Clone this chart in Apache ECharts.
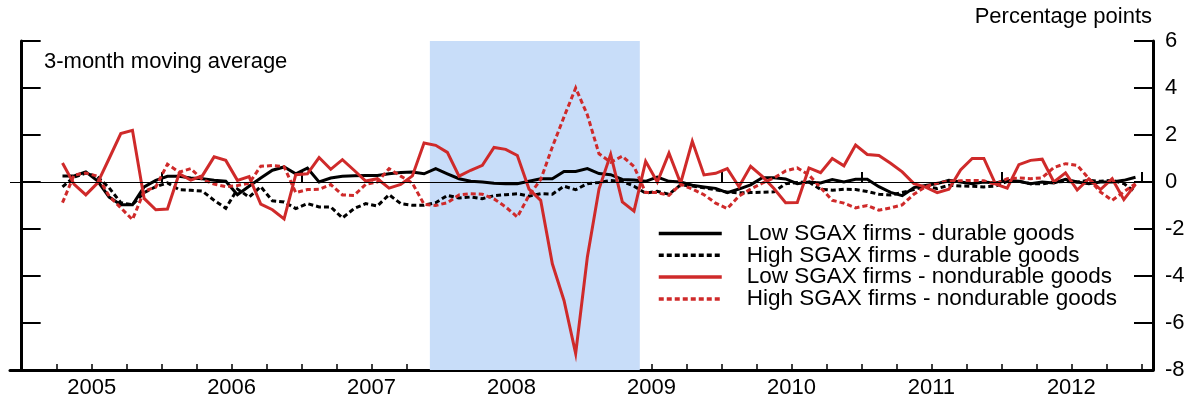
<!DOCTYPE html>
<html><head><meta charset="utf-8">
<script src="https://cdn.jsdelivr.net/npm/echarts@6/dist/echarts.min.js"></script>
<style>html,body{margin:0;padding:0;background:#fff}#c{width:1195px;height:408px}</style>
</head><body><div id="c"></div>
<script>
// ---- data ----
const years = ['2005','2006','2007','2008','2009','2010','2011','2012'];
const quarters = years.flatMap(y => ['Q1','Q2','Q3','Q4'].map(q => y + q));
const firstMonth = '2005-04';          // first observation (monthly)
const frameStart = '2004-12';          // left edge of frame
const frameEnd = '2013-02';            // right edge of frame (exclusive month start)
const recession = ['2007-12', '2009-06'];
const yTicks = { min: -8, max: 6, step: 2 };
const seriesNames = ['Low SGAX firms - durable goods','High SGAX firms - durable goods','Low SGAX firms - nondurable goods','High SGAX firms - nondurable goods'];

const lowDurable = [0.26,0.26,0.43,0.05,-0.64,-0.97,-0.97,-0.21,0.07,0.24,
 0.24,0.17,0.14,0.07,0.03,-0.54,-0.18,0.17,0.5,0.64,
 0.35,0.59,0,0.17,0.24,0.27,0.28,0.28,0.35,0.4,
 0.43,0.35,0.57,0.35,0.14,0.03,0,-0.05,-0.07,-0.07,
 0.03,0.14,0.14,0.45,0.45,0.57,0.36,0.31,0.11,0.08,
 0.03,0.21,0.03,0,-0.14,-0.21,-0.27,-0.45,-0.3,-0.12,
 0.18,0.18,0.13,-0.07,0,-0.04,0.1,0,0.12,0.12,
 -0.2,-0.44,-0.58,-0.24,-0.15,-0.07,0.07,0,-0.07,0,
 -0.04,0.07,0.03,-0.07,0,-0.04,0.11,0,-0.07,0,
 0,0.07,0.2];
const highDurable = [-0.21,0.21,0.38,0.22,-0.25,-0.88,-0.97,-0.45,-0.2,-0.04,
 -0.33,-0.35,-0.39,-0.78,-1.12,-0.3,-0.64,-0.2,-0.8,-0.85,
 -1.13,-0.92,-1.06,-1.06,-1.53,-1.13,-0.92,-1.02,-0.54,-0.92,
 -0.99,-0.99,-0.88,-0.57,-0.68,-0.64,-0.71,-0.58,-0.54,-0.5,
 -0.6,-0.5,-0.52,-0.18,-0.33,-0.07,-0.02,0.06,0.03,-0.18,
 -0.47,-0.4,-0.52,-0.12,-0.17,-0.25,-0.33,-0.43,-0.46,-0.45,
 -0.44,-0.42,-0.07,-0.02,0,-0.31,-0.35,-0.31,-0.32,-0.4,
 -0.52,-0.55,-0.45,-0.32,-0.17,-0.28,-0.14,-0.17,-0.18,-0.21,
 -0.17,0.03,0.03,-0.07,-0.08,0,0.03,0,0.07,0.03,
 0.07,-0.07,-0.43];
const lowNondurable = [0.81,-0.1,-0.55,-0.05,1.0,2.06,2.2,-0.7,-1.18,-1.15,
 0.35,0.08,0.27,1.07,0.92,0.07,0.23,-0.94,-1.18,-1.57,
 0.31,0.35,1.04,0.54,0.95,0.5,0.04,0.14,-0.26,-0.1,
 0.26,1.66,1.56,1.26,0.25,0.5,0.71,1.47,1.39,1.13,
 -0.3,-0.78,-3.48,-5.04,-7.3,-3.2,-0.3,1.18,-0.85,-1.24,
 0.88,0,1.23,-0.05,1.73,0.3,0.37,0.57,-0.2,0.67,
 0.24,-0.28,-0.88,-0.87,0.6,0.4,1.0,0.69,1.57,1.17,
 1.13,0.8,0.43,-0.07,-0.22,-0.45,-0.31,0.51,1.0,1.0,
 -0.09,-0.26,0.74,0.92,0.97,0,0.39,-0.34,0.14,-0.32,
 0.14,-0.75,-0.1];
const highNondurable = [-0.88,0.3,0.38,0.25,-0.6,-1.1,-1.6,-0.4,-0.21,0.76,
 0.42,0.57,0.1,-0.09,-0.2,-0.15,-0.05,0.67,0.7,0.65,
 -0.45,-0.32,-0.31,-0.11,-0.55,-0.57,-0.1,0.0,0.57,0.25,
 -0.05,-0.95,-1.0,-0.88,-0.55,-0.5,-0.52,-0.72,-1.06,-1.49,
 -0.57,0.1,1.49,2.77,4.0,2.86,1.2,0.84,1.1,0.66,
 -0.45,-0.45,-0.57,-0.1,-0.3,-0.54,-0.9,-1.13,-0.6,-0.3,
 -0.05,0.17,0.47,0.6,0.3,-0.24,-0.78,-0.9,-1.1,-1.0,
 -1.2,-1.1,-0.97,-0.52,-0.2,-0.05,0.04,0.05,0.07,0.05,
 -0.1,0.14,0.17,0.14,0.18,0.62,0.78,0.71,0.14,-0.43,
 -0.78,-0.42,-0.07];

// ---- helpers ----
function monthIdx(s){ const [y,m] = s.split('-').map(Number); return (y-2005)*12 + (m-1); }
const start = monthIdx(firstMonth);
function pts(arr){ return arr.map((v,i) => [start + i + 0.5, v]); }

const RED = '#cf2a2a';
const FONT = 'Liberation Sans, Arial, sans-serif';
const FS = 22;
const LFS = 22.5;

const chart = echarts.init(document.getElementById('c'), null, {renderer:'canvas'});

const gridTop = 41, gridBottom = 38;
const frameLeft = 10, frameRight = 1195 - 1153;
const pxPerMonth = (1195 - frameLeft - frameRight) / (monthIdx(frameEnd) - monthIdx(frameStart));
const innerLeft = frameLeft + pxPerMonth * (0 - monthIdx(frameStart));
const innerRight = frameRight + pxPerMonth * (monthIdx(frameEnd) - 96);

function lineSeries(name, data, color, dashed){
  return {
    name, type:'line', xAxisIndex:0, yAxisIndex:0, data: pts(data),
    symbol:'none', smooth:false, z: 3,
    lineStyle:{ color, width:3, type: dashed ? [5,3] : 'solid', cap:'butt', join:'miter' },
    itemStyle:{ color },
    emphasis:{ disabled:true }
  };
}

const option = {
  animation:false,
  backgroundColor:'#fff',
  textStyle:{ fontFamily: FONT },
  title:[
    { text:'Percentage points', right: 1195-1152, top: 6, padding:0,
      textStyle:{ fontSize:FS, fontWeight:'normal', color:'#000', fontFamily:FONT } },
    { text:'3-month moving average', left: 44, top: 51, padding:0,
      textStyle:{ fontSize:FS, fontWeight:'normal', color:'#000', fontFamily:FONT } }
  ],
  legend:{
    orient:'vertical', left: 657, top: 222, padding:0,
    itemWidth: 63, itemHeight: 12, itemGap: -1.2,
    data: seriesNames,
    selectedMode:false,
    itemStyle:{ opacity:0, borderWidth:0 },
    lineStyle:{ width:3.5 },
    textStyle:{ fontSize:LFS, color:'#000', fontFamily:FONT, lineHeight:21.3, padding:[0,0,0,20] }
  },
  grid:[
    { left: frameLeft, right: frameRight, top: gridTop, bottom: gridBottom, containLabel:false },
    { left: innerLeft, right: innerRight, top: gridTop, bottom: gridBottom, containLabel:false }
  ],
  xAxis:[
    { type:'value', gridIndex:0, min: monthIdx(frameStart), max: monthIdx(frameEnd),
      axisLine:{ show:true, onZero:false, lineStyle:{ color:'#000', width:3 } },
      axisTick:{ show:false }, axisLabel:{ show:false }, splitLine:{ show:false } },
    { type:'category', gridIndex:1, data: years, boundaryGap:true, position:'bottom',
      axisLine:{ show:false },
      axisTick:{ show:true, inside:true, length:10, lineStyle:{ color:'#000', width:2 } },
      axisLabel:{ show:true, margin:7, fontSize:FS, color:'#000', fontFamily:FONT },
      splitLine:{ show:false } },
    { type:'category', gridIndex:1, data: quarters, boundaryGap:true, position:'bottom',
      axisLine:{ show:false },
      axisTick:{ show:true, inside:true, length:6, interval:0, lineStyle:{ color:'#000', width:1.5 } },
      axisLabel:{ show:false }, splitLine:{ show:false } }
  ],
  yAxis:[
    { type:'value', gridIndex:0, position:'left', min:yTicks.min, max:yTicks.max, interval:yTicks.step,
      axisLine:{ show:true, lineStyle:{ color:'#000', width:3 } },
      axisTick:{ show:true, inside:true, length:19, lineStyle:{ color:'#000', width:2 } },
      axisLabel:{ show:false }, splitLine:{ show:false } },
    { type:'value', gridIndex:0, position:'right', min:yTicks.min, max:yTicks.max, interval:yTicks.step,
      axisLine:{ show:true, lineStyle:{ color:'#000', width:3 } },
      axisTick:{ show:true, inside:true, length:19, lineStyle:{ color:'#000', width:2 } },
      axisLabel:{ show:true, margin:12, fontSize:FS, color:'#000', fontFamily:FONT },
      splitLine:{ show:false } },
    { type:'value', gridIndex:1, min:yTicks.min, max:yTicks.max, show:false }
  ],
  series:[
    { name:'_frame', type:'line', xAxisIndex:0, yAxisIndex:0, data:[], symbol:'none', silent:true, z:2,
      markArea:{ silent:true, itemStyle:{ color:'#c8ddf9' },
        data:[[{ xAxis: monthIdx(recession[0]) }, { xAxis: monthIdx(recession[1]) }]] },
      markLine:{ silent:true, symbol:'none', label:{show:false},
        lineStyle:{ color:'#000', width:1, type:'solid' }, data:[{ yAxis:0 }] } },
    lineSeries(seriesNames[0], lowDurable, '#000', false),
    lineSeries(seriesNames[1], highDurable, '#000', true),
    lineSeries(seriesNames[2], lowNondurable, RED, false),
    lineSeries(seriesNames[3], highNondurable, RED, true),
    { type:'line', xAxisIndex:1, yAxisIndex:2, data:[], symbol:'none', silent:true },
    { type:'line', xAxisIndex:2, yAxisIndex:2, data:[], symbol:'none', silent:true }
  ]
};
chart.setOption(option);
</script>
</body></html>
